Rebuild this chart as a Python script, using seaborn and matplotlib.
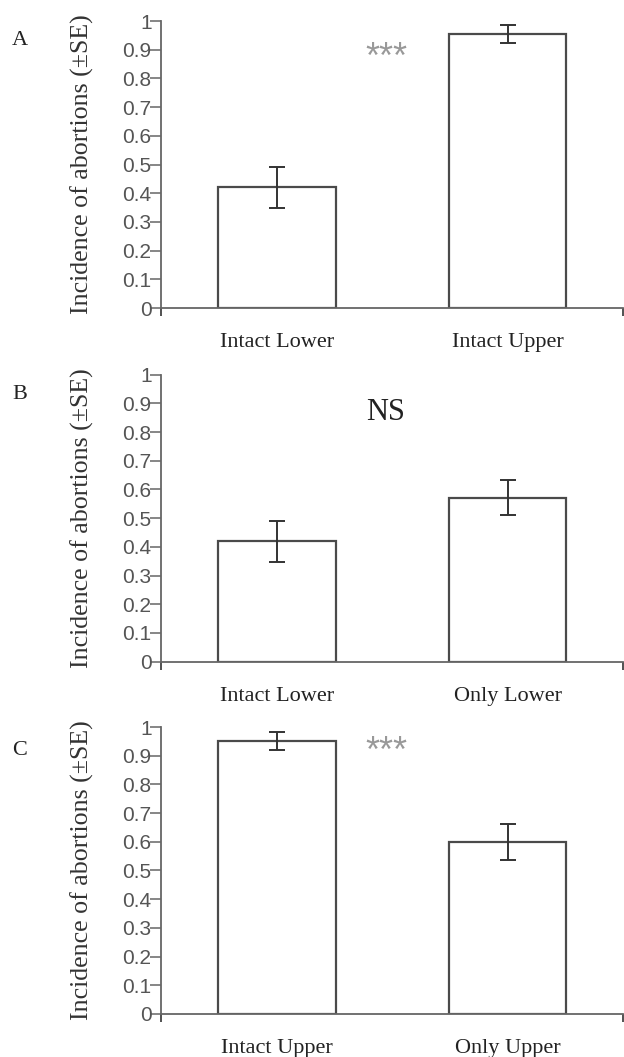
import numpy as np
import pandas as pd
import seaborn as sns
import matplotlib.pyplot as plt

# panel data
panel_letters = ['A', 'B', 'C']
cats_a = ['Intact Lower', 'Intact Upper']
cats_b = ['Intact Lower', 'Only Lower']
cats_c = ['Intact Upper', 'Only Upper']
means_a = [0.42, 0.955]
means_b = [0.42, 0.572]
means_c = [0.952, 0.60]
se_a = [0.072, 0.031]
se_b = [0.071, 0.061]
se_c = [0.032, 0.063]
signif = ['***', 'NS', '***']
signif_y = [0.87, 0.87, 0.912]
yticks = np.round(np.arange(0, 1.01, 0.1), 1)

sns.set_theme(style='white')

fig = plt.figure(figsize=(6.24, 10.57), dpi=100)

panels = [(cats_a, means_a, se_a), (cats_b, means_b, se_b), (cats_c, means_c, se_c)]
bottoms = [0.7086, 0.374, 0.0407]
letter_y = [0.962, 0.627, 0.29]

axis_col = '#666666'
edge_col = '#4a4a4a'

for i, (cats, means, se) in enumerate(panels):
    ax = fig.add_axes([0.2585, bottoms[i], 0.74, 0.2715])
    df = pd.DataFrame({'cat': cats, 'val': means})
    sns.barplot(data=df, x='cat', y='val', color='white', edgecolor=edge_col,
                linewidth=1.6, width=0.51, errorbar=None, ax=ax)
    ax.errorbar(range(len(cats)), means, yerr=se, fmt='none', ecolor='#333333',
                elinewidth=1.4, capsize=6, capthick=1.4)

    ax.set_xlim(-0.5, 1.5)
    ax.set_ylim(0, 1)
    ax.set_yticks(yticks)
    ax.set_yticklabels(['{:g}'.format(t) for t in yticks], fontsize=15,
                       color='#555555', family='Liberation Sans')
    ax.tick_params(axis='y', direction='out', length=8, width=1.1, color=axis_col,
                   pad=-1, left=True)
    ax.set_xticks(range(len(cats)))
    ax.set_xticklabels(cats, fontsize=16, family='Liberation Serif', color='#222222')
    ax.tick_params(axis='x', length=0, pad=18)
    ax.set_xticks([-0.5, 1.5], minor=True)
    ax.tick_params(axis='x', which='minor', direction='out', length=6, width=1.1,
                   color='#222222', bottom=True)

    for s in ['top', 'right']:
        ax.spines[s].set_visible(False)
    for s in ['left', 'bottom']:
        ax.spines[s].set_color(axis_col)
        ax.spines[s].set_linewidth(1.3)

    ax.set_xlabel('')
    ax.set_ylabel('Incidence of abortions (\u00b1SE)', fontsize=18.6,
                  family='Liberation Serif', color='#333333')
    ax.yaxis.set_label_coords(-0.145, 0.5)

    if signif[i] == 'NS':
        ax.text(0.47, signif_y[i], signif[i], ha='center', va='center', fontsize=22,
                family='Liberation Serif', color='#222222')
    else:
        ax.text(0.476, signif_y[i], signif[i], ha='center', va='center', fontsize=26,
                family='Liberation Sans', color='#999999')

    fig.text(0.032, letter_y[i], panel_letters[i], ha='center', va='center',
             fontsize=16, family='Liberation Serif', color='#222222')

plt.savefig('out.png', dpi=100)
